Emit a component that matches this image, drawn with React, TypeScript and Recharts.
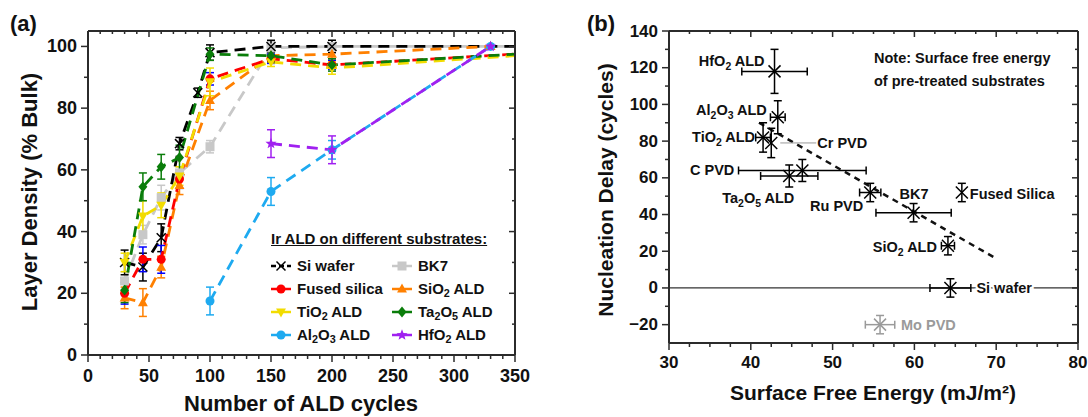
import React from "react";
import { ComposedChart, Line, Scatter, XAxis, YAxis, ErrorBar, ReferenceLine } from "recharts";

const FONT = "'Liberation Sans', Arial, sans-serif";
const AX = "#2b2b2b";

// ---------- (a) layer density vs number of ALD cycles ----------
const siWaferX = [30, 45, 60, 75, 90, 100, 150, 200, 350];
const siWaferY = [30, 28.5, 38, 68.5, 85, 98, 100, 100, 100];
const siWaferErr = [4, 4.5, 4.5, 2, 1.5, 2.5, 2, 2, 0];

const bk7X = [30, 45, 60, 75, 100, 150, 200, 350];
const bk7Y = [24, 39, 51, 59, 67.5, 99.5, 100, 100];
const bk7Err = [3, 3, 4, 2, 2, 2, 2, 0];

const fusedX = [30, 45, 60, 75, 100, 150, 200, 350];
const fusedY = [20, 31, 31, 57, 89.5, 96, 94, 97.5];
const fusedErr = [3.5, 4, 4.5, 3, 2, 1.5, 1.5, 0];

const sio2X = [30, 45, 60, 75, 100, 150, 200, 330];
const sio2Y = [18.5, 17, 28.5, 55, 82.5, 97, 97.5, 100];
const sio2Err = [3.5, 4.5, 3.5, 3, 3, 2, 2, 0];

const tio2X = [30, 45, 60, 75, 100, 150, 200, 350];
const tio2Y = [30, 45, 48.5, 58, 88.5, 95, 93, 97];
const tio2Err = [3, 5, 4, 3, 4.5, 1.5, 2, 0];

const ta2o5X = [30, 45, 60, 75, 100, 150, 200, 350];
const ta2o5Y = [21, 54.5, 61, 64, 97.5, 97, 94, 97.5];
const ta2o5Err = [4, 4.5, 4, 4, 2, 2, 2, 0];

const al2o3X = [100, 150, 200, 330];
const al2o3Y = [17.5, 53, 66.5, 100];
const al2o3Err = [4.5, 4.5, 3, 0];

const hfo2X = [150, 200, 330];
const hfo2Y = [68.5, 66.5, 100];
const hfo2Err = [4.5, 4.5, 0];

const cycleTicks = Array.from({ length: 36 }, (_, i) => i * 10);
const densityTicks = Array.from({ length: 11 }, (_, i) => i * 10);

// ---------- (b) nucleation delay vs surface free energy ----------
const substrates = ["HfO_2 ALD", "Al_2O_3 ALD", "TiO_2 ALD", "Cr PVD", "C PVD", "Ta_2O_5 ALD", "Ru PVD", "BK7", "Fused Silica", "SiO_2 ALD", "Si wafer"];
const surfaceEnergy = [42.9, 43.3, 41.5, 42.5, 46.3, 44.7, 54.6, 59.9, 65.8, 64.1, 64.4];
const surfaceEnergyErr = [4, 0.9, 0.9, 0, 7.8, 3.5, 1.3, 4.6, 0, 0.8, 2.5];
const nucleationDelay = [118, 93, 82, 79, 64, 61, 52, 41, 52, 23, 0];
const nucleationDelayErr = [12, 9, 8, 8, 6, 6, 5, 5, 5, 5, 5];

const moName = ["Mo PVD"];
const moEnergy = [55.8];
const moEnergyErr = [1.8];
const moDelay = [-20];
const moDelayErr = [5];

const trendX = [41, 70];
const trendY = [90, 16];

const energyTicks = Array.from({ length: 21 }, (_, i) => 30 + i * 2.5);
const delayTicks = Array.from({ length: 17 }, (_, i) => -20 + i * 10);

const zip = (xs: number[], ys: number[], es: number[]) => xs.map((x, i) => ({ x, y: ys[i], e: es[i] }));

type Kind = "cross" | "square" | "circle" | "up" | "down" | "diamond" | "star";

const seriesA = [
  { name: "BK7", data: zip(bk7X, bk7Y, bk7Err), color: "#c8c8c8", err: "#c8c8c8", kind: "square" as Kind },
  { name: "Si wafer", data: zip(siWaferX, siWaferY, siWaferErr), color: "#000000", err: "#000000", kind: "cross" as Kind },
  { name: "SiO_2 ALD", data: zip(sio2X, sio2Y, sio2Err), color: "#ff8000", err: "#ff8000", kind: "up" as Kind },
  { name: "Fused silica", data: zip(fusedX, fusedY, fusedErr), color: "#ff0000", err: "#0000ff", kind: "circle" as Kind },
  { name: "TiO_2 ALD", data: zip(tio2X, tio2Y, tio2Err), color: "#f2dc00", err: "#f2dc00", kind: "down" as Kind },
  { name: "Ta_2O_5 ALD", data: zip(ta2o5X, ta2o5Y, ta2o5Err), color: "#0a7d0a", err: "#0a7d0a", kind: "diamond" as Kind },
  { name: "Al_2O_3 ALD", data: zip(al2o3X, al2o3Y, al2o3Err), color: "#1eaaf0", err: "#1eaaf0", kind: "circle" as Kind },
  { name: "HfO_2 ALD", data: zip(hfo2X, hfo2Y, hfo2Err), color: "#a020f0", err: "#a020f0", kind: "star" as Kind },
];

const legendCols = [
  ["Si wafer", "Fused silica", "TiO_2 ALD", "Al_2O_3 ALD"],
  ["BK7", "SiO_2 ALD", "Ta_2O_5 ALD", "HfO_2 ALD"],
];

const labelPlace: Record<string, { dx: number; dy: number; anchor: "start" | "end" | "middle"; color?: string }> = {
  "HfO_2 ALD": { dx: -10, dy: -10, anchor: "end" },
  "Al_2O_3 ALD": { dx: -11, dy: -7, anchor: "end" },
  "TiO_2 ALD": { dx: -8, dy: 0, anchor: "end" },
  "Cr PVD": { dx: 46, dy: 0, anchor: "start" },
  "C PVD": { dx: -68, dy: 0, anchor: "end" },
  "Ta_2O_5 ALD": { dx: -31, dy: 22, anchor: "middle" },
  "Ru PVD": { dx: -7, dy: 13, anchor: "end" },
  "BK7": { dx: -14, dy: -19, anchor: "start" },
  "Fused Silica": { dx: 8, dy: 1, anchor: "start" },
  "SiO_2 ALD": { dx: -11, dy: 1, anchor: "end" },
  "Si wafer": { dx: 26, dy: 0, anchor: "start" },
  "Mo PVD": { dx: 21, dy: 0, anchor: "start", color: "#9a9a9a" },
};

function Marker({ kind, cx, cy, color, r = 4.5 }: { kind: Kind; cx: number; cy: number; color: string; r?: number }) {
  switch (kind) {
    case "cross":
      return (
        <g stroke={color} strokeWidth={1.5}>
          <line x1={cx - r} y1={cy - r} x2={cx + r} y2={cy + r} />
          <line x1={cx - r} y1={cy + r} x2={cx + r} y2={cy - r} />
        </g>
      );
    case "square":
      return <rect x={cx - r} y={cy - r} width={2 * r} height={2 * r} fill={color} />;
    case "circle":
      return <circle cx={cx} cy={cy} r={r} fill={color} />;
    case "up":
      return <polygon points={`${cx},${cy - r * 1.2} ${cx + r * 1.1},${cy + r * 0.8} ${cx - r * 1.1},${cy + r * 0.8}`} fill={color} />;
    case "down":
      return <polygon points={`${cx},${cy + r * 1.2} ${cx + r * 1.1},${cy - r * 0.8} ${cx - r * 1.1},${cy - r * 0.8}`} fill={color} />;
    case "diamond":
      return <polygon points={`${cx},${cy - r * 1.2} ${cx + r},${cy} ${cx},${cy + r * 1.2} ${cx - r},${cy}`} fill={color} />;
    case "star": {
      const pts = [];
      for (let i = 0; i < 10; i++) {
        const rr = i % 2 === 0 ? r * 1.3 : r * 0.55;
        const a = -Math.PI / 2 + (i * Math.PI) / 5;
        pts.push(`${cx + rr * Math.cos(a)},${cy + rr * Math.sin(a)}`);
      }
      return <polygon points={pts.join(" ")} fill={color} />;
    }
  }
  return null;
}

// "TiO_2 ALD" -> TiO with subscript 2
function SubText({ text, size }: { text: string; size: number }) {
  const parts = text.split(/(_\d)/).filter((p) => p !== "");
  let shifted = false;
  return (
    <>
      {parts.map((p, i) => {
        if (p.startsWith("_")) {
          const dy = shifted ? 0 : 4;
          shifted = true;
          return (
            <tspan key={i} fontSize={size * 0.72} dy={dy}>
              {p.slice(1)}
            </tspan>
          );
        }
        const dy = shifted ? -4 : 0;
        shifted = false;
        return (
          <tspan key={i} fontSize={size} dy={dy}>
            {p}
          </tspan>
        );
      })}
    </>
  );
}

function HtmlSub({ text }: { text: string }) {
  const parts = text.split(/(_\d)/).filter((p) => p !== "");
  return (
    <>
      {parts.map((p, i) =>
        p.startsWith("_") ? (
          <span key={i} style={{ fontSize: "0.72em", position: "relative", top: "0.25em" }}>
            {p.slice(1)}
          </span>
        ) : (
          <span key={i}>{p}</span>
        )
      )}
    </>
  );
}

const fmt = (v: number) => (v < 0 ? `\u2212${Math.abs(v)}` : `${v}`);

function makeTick(side: "bottom" | "left" | "top" | "right", isMajor: (v: number) => boolean, fontSize: number, gap: number) {
  return (props: any) => {
    const { x, y, payload } = props;
    const v = payload.value as number;
    const major = isMajor(v);
    const out = major ? 7 : 4;
    const inn = major ? 6 : 3;
    const textProps = { fontSize, fontWeight: "bold" as const, fill: "#111", fontFamily: FONT };
    if (side === "bottom")
      return (
        <g>
          <line x1={x} y1={y} x2={x} y2={y + out} stroke={AX} strokeWidth={1.5} />
          {major && (
            <text x={x} y={y + gap} textAnchor="middle" dominantBaseline="central" {...textProps}>
              {fmt(v)}
            </text>
          )}
        </g>
      );
    if (side === "left")
      return (
        <g>
          <line x1={x - out} y1={y} x2={x} y2={y} stroke={AX} strokeWidth={1.5} />
          {major && (
            <text x={x - gap} y={y} textAnchor="end" dominantBaseline="central" {...textProps}>
              {fmt(v)}
            </text>
          )}
        </g>
      );
    if (side === "top") return <line x1={x} y1={y} x2={x} y2={y + inn} stroke={AX} strokeWidth={1.5} />;
    return <line x1={x - inn} y1={y} x2={x} y2={y} stroke={AX} strokeWidth={1.5} />;
  };
}

const axisLine = { stroke: AX, strokeWidth: 2 };

function PanelA() {
  const majorX = (v: number) => v % 50 === 0;
  const majorY = (v: number) => v % 20 === 0;
  return (
    <ComposedChart width={540} height={417} margin={{ top: 30, right: 24, bottom: 61, left: 87 }}>
      <XAxis xAxisId="b" type="number" dataKey="x" domain={[0, 350]} allowDataOverflow ticks={cycleTicks} interval={0} height={1} tickSize={0} tickMargin={0} tickLine={false} axisLine={axisLine} tick={makeTick("bottom", majorX, 18, 21)} />
      <XAxis xAxisId="t" orientation="top" type="number" dataKey="x" domain={[0, 350]} allowDataOverflow ticks={cycleTicks} interval={0} height={1} tickSize={0} tickMargin={0} tickLine={false} axisLine={axisLine} tick={makeTick("top", majorX, 18, 0)} />
      <YAxis yAxisId="l" type="number" dataKey="y" domain={[0, 105]} allowDataOverflow ticks={densityTicks} interval={0} width={1} tickSize={0} tickMargin={0} tickLine={false} axisLine={axisLine} tick={makeTick("left", majorY, 18, 11)} />
      <YAxis yAxisId="r" orientation="right" type="number" dataKey="y" domain={[0, 105]} allowDataOverflow ticks={densityTicks} interval={0} width={1} tickSize={0} tickMargin={0} tickLine={false} axisLine={axisLine} tick={makeTick("right", majorY, 18, 0)} />
      {seriesA.map((s) => (
        <Line
          key={s.name}
          xAxisId="b"
          yAxisId="l"
          data={s.data}
          dataKey="y"
          type="linear"
          stroke={s.color}
          strokeWidth={2.8}
          strokeDasharray="11 7"
          isAnimationActive={false}
          activeDot={false}
          dot={(p: any) =>
            p.payload.x >= 350 ? <g key={`d${p.index}`} /> : (
              <g key={`d${p.index}`}>
                <Marker kind={s.kind} cx={p.cx} cy={p.cy} color={s.color} />
              </g>
            )
          }
        >
          <ErrorBar dataKey="e" direction="y" width={4} stroke={s.err} strokeWidth={1.5} />
        </Line>
      ))}
    </ComposedChart>
  );
}

function PointShape(props: any) {
  const { cx, cy, payload, color } = props;
  const place = labelPlace[payload.name];
  const c = color || "#000";
  return (
    <g>
      <Marker kind="cross" cx={cx} cy={cy} color={c} r={6} />
      {payload.name === "Cr PVD" && <line x1={cx + 9} y1={cy} x2={cx + 45} y2={cy} stroke="#9a9a9a" strokeWidth={1} />}
      {place && (
        <text
          x={cx + place.dx}
          y={cy + place.dy + 5}
          textAnchor={place.anchor}
          fontFamily={FONT}
          fontWeight="bold"
          fill={place.color || "#111"}
          stroke="#fff"
          strokeWidth={payload.name === "Si wafer" ? 4 : 0}
          paintOrder="stroke"
        >
          <SubText text={payload.name} size={14.5} />
        </text>
      )}
    </g>
  );
}

function PanelB() {
  const majorX = (v: number) => v % 10 === 0;
  const majorY = (v: number) => v % 20 === 0;
  const points = substrates.map((name, i) => ({ name, x: surfaceEnergy[i], y: nucleationDelay[i], ex: surfaceEnergyErr[i], ey: nucleationDelayErr[i] }));
  const mo = moName.map((name, i) => ({ name, x: moEnergy[i], y: moDelay[i], ex: moEnergyErr[i], ey: moDelayErr[i] }));
  const trend = trendX.map((x, i) => ({ x, y: trendY[i] }));
  return (
    <ComposedChart width={543} height={417} margin={{ top: 30, right: 9, bottom: 73, left: 123 }}>
      <XAxis xAxisId="b" type="number" dataKey="x" domain={[30, 80]} allowDataOverflow ticks={energyTicks} interval={0} height={1} tickSize={0} tickMargin={0} tickLine={false} axisLine={axisLine} tick={makeTick("bottom", majorX, 17, 19.5)} />
      <XAxis xAxisId="t" orientation="top" type="number" dataKey="x" domain={[30, 80]} allowDataOverflow ticks={energyTicks} interval={0} height={1} tickSize={0} tickMargin={0} tickLine={false} axisLine={axisLine} tick={makeTick("top", majorX, 17, 0)} />
      <YAxis yAxisId="l" type="number" dataKey="y" domain={[-30, 140]} allowDataOverflow ticks={delayTicks} interval={0} width={1} tickSize={0} tickMargin={0} tickLine={false} axisLine={axisLine} tick={makeTick("left", majorY, 17, 11)} />
      <YAxis yAxisId="r" orientation="right" type="number" dataKey="y" domain={[-30, 140]} allowDataOverflow ticks={delayTicks} interval={0} width={1} tickSize={0} tickMargin={0} tickLine={false} axisLine={axisLine} tick={makeTick("right", majorY, 17, 0)} />
      <ReferenceLine xAxisId="b" yAxisId="l" y={0} stroke="#333" strokeWidth={1.2} />
      <Line xAxisId="b" yAxisId="l" data={trend} dataKey="y" type="linear" stroke="#111" strokeWidth={2.5} strokeDasharray="6 5" dot={false} activeDot={false} isAnimationActive={false} />
      <Scatter xAxisId="b" yAxisId="l" data={mo} isAnimationActive={false} shape={(p: any) => <PointShape {...p} color="#9a9a9a" />}>
        <ErrorBar dataKey="ex" direction="x" width={4} stroke="#9a9a9a" strokeWidth={1.5} />
        <ErrorBar dataKey="ey" direction="y" width={4} stroke="#9a9a9a" strokeWidth={1.5} />
      </Scatter>
      <Scatter xAxisId="b" yAxisId="l" data={points} isAnimationActive={false} shape={(p: any) => <PointShape {...p} color="#000" />}>
        <ErrorBar dataKey="ex" direction="x" width={4} stroke="#000" strokeWidth={1.5} />
        <ErrorBar dataKey="ey" direction="y" width={4} stroke="#000" strokeWidth={1.5} />
      </Scatter>
    </ComposedChart>
  );
}

function LegendA() {
  const find = (n: string) => seriesA.find((s) => s.name === n)!;
  return (
    <div style={{ position: "absolute", left: 271, top: 231, fontFamily: FONT, fontWeight: "bold", fontSize: 15, color: "#111", lineHeight: 1 }}>
      <div style={{ textDecoration: "underline", height: 20 }}>Ir ALD on different substrates:</div>
      <div style={{ display: "flex", marginTop: 3 }}>
        {legendCols.map((col, ci) => (
          <div key={ci} style={{ width: ci === 0 ? 121 : 110 }}>
            {col.map((n) => {
              const s = find(n);
              return (
                <div key={n} style={{ display: "flex", alignItems: "center", height: 23 }}>
                  <svg width={20} height={14} style={{ marginRight: 6 }}>
                    <line x1={0} y1={7} x2={20} y2={7} stroke={s.color} strokeWidth={2.5} strokeDasharray={s.kind === "cross" ? "5 3" : undefined} />
                    <Marker kind={s.kind} cx={10} cy={7} color={s.color} />
                  </svg>
                  <span>
                    <HtmlSub text={n} />
                  </span>
                </div>
              );
            })}
          </div>
        ))}
      </div>
    </div>
  );
}

const abs = (extra: React.CSSProperties): React.CSSProperties => ({ position: "absolute", fontFamily: FONT, fontWeight: "bold", color: "#111", whiteSpace: "nowrap", lineHeight: 1, ...extra });

export default function App() {
  return (
    <div style={{ position: "absolute", left: 0, top: 0, width: 1088, height: 417, background: "#fff", overflow: "hidden" }}>
      <div style={{ position: "absolute", left: 0, top: 0 }}>
        <PanelA />
      </div>
      <div style={{ position: "absolute", left: 545, top: 0 }}>
        <PanelB />
      </div>
      <LegendA />
      <div style={abs({ left: 10, top: 13, fontSize: 22 })}>(a)</div>
      <div style={abs({ left: 587, top: 13, fontSize: 22 })}>(b)</div>
      <div style={abs({ left: 301, top: 404, fontSize: 22, transform: "translate(-50%, -50%)" })}>Number of ALD cycles</div>
      <div style={abs({ left: 30, top: 192, fontSize: 22, transform: "translate(-50%, -50%) rotate(-90deg)" })}>Layer Density (% Bulk)</div>
      <div style={abs({ left: 873, top: 392, fontSize: 21, transform: "translate(-50%, -50%)" })}>Surface Free Energy (mJ/m²)</div>
      <div style={abs({ left: 605, top: 190, fontSize: 21, transform: "translate(-50%, -50%) rotate(-90deg)" })}>Nucleation Delay (cycles)</div>
      <div style={abs({ left: 874, top: 47, fontSize: 14.5, lineHeight: "23px" })}>
        Note: Surface free energy
        <br />
        of pre-treated substrates
      </div>
    </div>
  );
}
